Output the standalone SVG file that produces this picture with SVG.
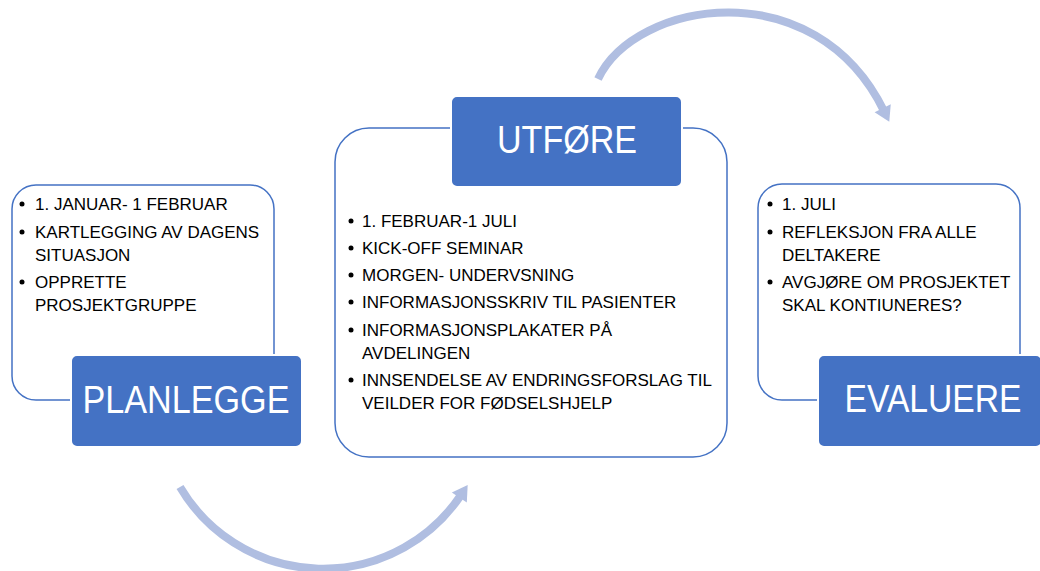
<svg xmlns="http://www.w3.org/2000/svg" width="1040" height="571" viewBox="0 0 1040 571">
  <style>
    .card { fill: #FFFFFF; stroke: #4472C4; stroke-width: 1.5; }
    .head { fill: #4472C4; stroke: #FFFFFF; stroke-width: 2; }
    .title { font-family: "Liberation Sans", Arial, sans-serif; font-size: 38px; fill: #FFFFFF; text-anchor: middle; }
    .body { font-family: "Liberation Sans", Arial, sans-serif; font-size: 17px; fill: #000000; }
    .dot { fill: #000000; }
    .arc { fill: none; stroke: #B0BEE1; stroke-width: 8; }
  </style>
  <defs>
    <marker id="ah" markerUnits="userSpaceOnUse" markerWidth="24" markerHeight="24" viewBox="-4 -12 20 24" refX="0" refY="0" orient="auto">
      <path d="M-3,-9 L12,0 L-3,9 Z" fill="#B0BEE1"/>
    </marker>
  </defs>
  <rect width="1040" height="571" fill="#FFFFFF"/>

  <g id="connectors">
    <path class="arc" d="M180,487 A166,166 0 0,0 461,495" marker-end="url(#ah)"/>
    <path class="arc" d="M598,79 C635,0 815,-30 884,111" marker-end="url(#ah)"/>
  </g>

  <g id="planlegge">
    <rect class="card" x="12" y="185" width="262" height="215" rx="24"/>
    <circle class="dot" cx="22" cy="204" r="2.5"/>
    <text class="body" x="35" y="210">1. JANUAR- 1 FEBRUAR</text>
    <circle class="dot" cx="22" cy="232" r="2.5"/>
    <text class="body" x="35" y="238">KARTLEGGING AV DAGENS</text>
    <text class="body" x="35" y="261">SITUASJON</text>
    <circle class="dot" cx="22" cy="282" r="2.5"/>
    <text class="body" x="35" y="288">OPPRETTE</text>
    <text class="body" x="35" y="311">PROSJEKTGRUPPE</text>
    <rect class="head" x="71" y="355" width="231" height="92" rx="6"/>
    <text class="title" x="186" y="413" textLength="207" lengthAdjust="spacingAndGlyphs">PLANLEGGE</text>
  </g>

  <g id="utfore">
    <rect class="card" x="335" y="128" width="392" height="329" rx="34"/>
    <rect class="head" x="451" y="96" width="231" height="91" rx="6"/>
    <text class="title" x="567" y="153" textLength="140" lengthAdjust="spacingAndGlyphs">UTFØRE</text>
    <circle class="dot" cx="351" cy="221" r="2.5"/>
    <text class="body" x="362" y="227">1. FEBRUAR-1 JULI</text>
    <circle class="dot" cx="351" cy="248" r="2.5"/>
    <text class="body" x="362" y="254">KICK-OFF SEMINAR</text>
    <circle class="dot" cx="351" cy="275" r="2.5"/>
    <text class="body" x="362" y="281">MORGEN- UNDERVSNING</text>
    <circle class="dot" cx="351" cy="302" r="2.5"/>
    <text class="body" x="362" y="308">INFORMASJONSSKRIV TIL PASIENTER</text>
    <circle class="dot" cx="351" cy="330" r="2.5"/>
    <text class="body" x="362" y="336">INFORMASJONSPLAKATER PÅ</text>
    <text class="body" x="362" y="359">AVDELINGEN</text>
    <circle class="dot" cx="351" cy="380" r="2.5"/>
    <text class="body" x="362" y="386">INNSENDELSE AV ENDRINGSFORSLAG TIL</text>
    <text class="body" x="362" y="409">VEILDER FOR FØDSELSHJELP</text>
  </g>

  <g id="evaluere">
    <rect class="card" x="758" y="184" width="262" height="216" rx="24"/>
    <circle class="dot" cx="770" cy="204" r="2.5"/>
    <text class="body" x="782" y="210">1. JULI</text>
    <circle class="dot" cx="770" cy="232" r="2.5"/>
    <text class="body" x="782" y="238">REFLEKSJON FRA ALLE</text>
    <text class="body" x="782" y="261">DELTAKERE</text>
    <circle class="dot" cx="770" cy="282" r="2.5"/>
    <text class="body" x="782" y="288">AVGJØRE OM PROSJEKTET</text>
    <text class="body" x="782" y="311">SKAL KONTIUNERES?</text>
    <rect class="head" x="818" y="355" width="224" height="92" rx="6"/>
    <text class="title" x="933" y="412" textLength="177" lengthAdjust="spacingAndGlyphs">EVALUERE</text>
  </g>
</svg>
